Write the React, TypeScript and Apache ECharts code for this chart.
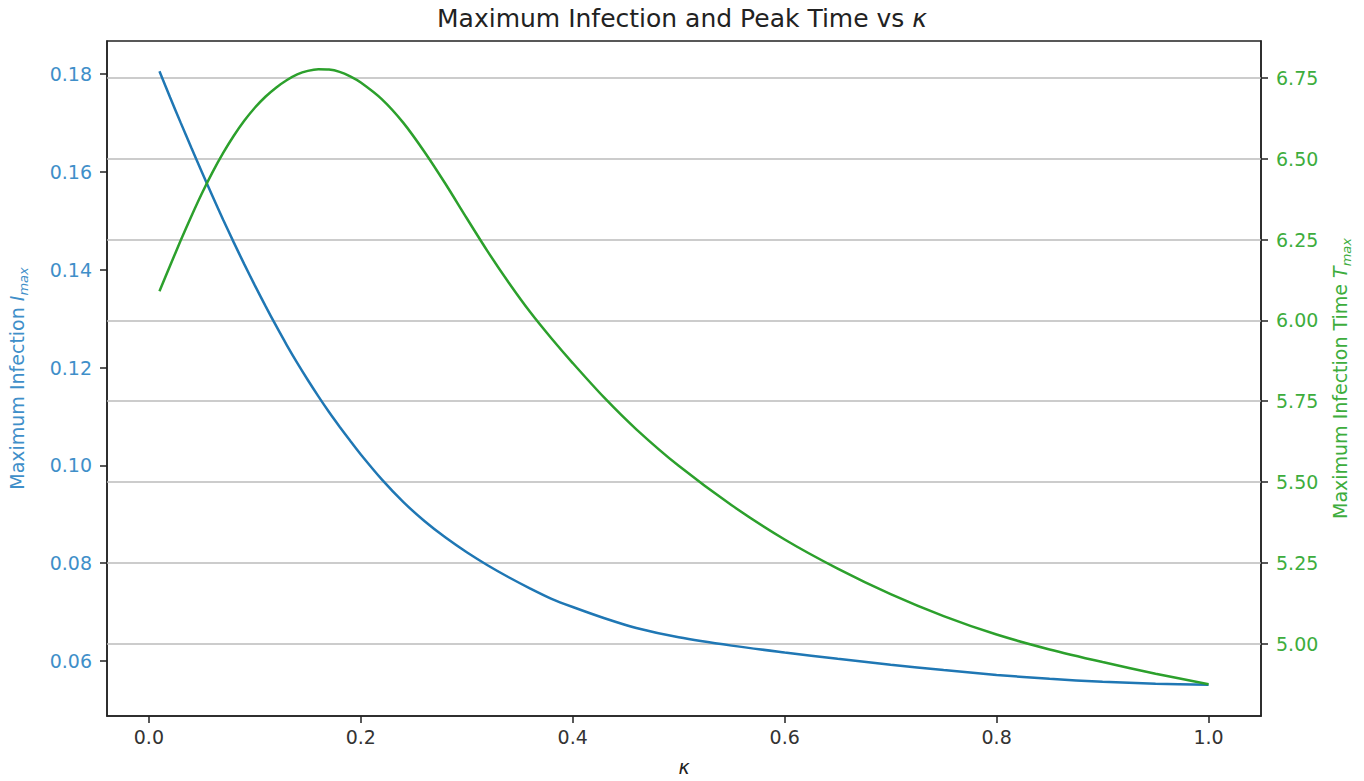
import React, { useEffect, useRef } from "react";
import * as echarts from "echarts";

const kappa = [
  0.01, 0.02, 0.03, 0.04, 0.05, 0.06, 0.07, 0.08, 0.09, 0.1, 0.11, 0.12, 0.13, 0.14, 0.15,
  0.16, 0.17, 0.18, 0.19, 0.2, 0.22, 0.24, 0.26, 0.28, 0.3, 0.32, 0.34, 0.36, 0.38, 0.4,
  0.43, 0.46, 0.5, 0.55, 0.6, 0.65, 0.7, 0.75, 0.8, 0.85, 0.9, 0.95, 1.0,
];

const iMax = [
  0.1806, 0.1753, 0.1701, 0.165, 0.16, 0.1551, 0.1503, 0.14565, 0.14115, 0.1368, 0.1326,
  0.12855, 0.12465, 0.12095, 0.11745, 0.1141, 0.1109, 0.1079, 0.105, 0.1022, 0.09705,
  0.0925, 0.0886, 0.0852, 0.0822, 0.0795, 0.07704, 0.07478, 0.07268, 0.071, 0.0687,
  0.0667, 0.0648, 0.0631, 0.0617, 0.0604, 0.0592, 0.0581, 0.0571, 0.0563, 0.0557, 0.0553,
  0.0551,
];

const tMax = [
  6.09, 6.169, 6.247, 6.3215, 6.3925, 6.458, 6.5175, 6.5705, 6.6175, 6.658, 6.692, 6.72,
  6.743, 6.761, 6.772, 6.777, 6.776, 6.769, 6.755, 6.736, 6.684, 6.612, 6.522, 6.422, 6.316,
  6.212, 6.115, 6.025, 5.944, 5.868, 5.76, 5.663, 5.55, 5.428, 5.322, 5.232, 5.153, 5.085,
  5.028, 4.982, 4.943, 4.907, 4.874,
];

const xTicks = [0, 0.2, 0.4, 0.6, 0.8, 1.0];
const leftTicks = [0.06, 0.08, 0.1, 0.12, 0.14, 0.16, 0.18];
const rightTicks = [5.0, 5.25, 5.5, 5.75, 6.0, 6.25, 6.5, 6.75];

const FONT = "DejaVu Sans";
const BLUE = "#1f77b4";
const GREEN = "#2ca02c";
const BLUE_TXT = "#3f8fc9";
const GREEN_TXT = "#3dad3d";
const DARK = "#222";

export default function App() {
  const ref = useRef<HTMLDivElement>(null);

  useEffect(() => {
    const chart = echarts.init(ref.current!, null, { renderer: "svg" });
    const tickStyle = { color: DARK, width: 1.5 };
    const nameRich = (c: string) => ({
      n: { fontFamily: FONT, fontSize: 19, color: c, lineHeight: 26 },
      i: { fontFamily: FONT, fontSize: 19, fontStyle: "italic", color: c, lineHeight: 26 },
      s: {
        fontFamily: FONT,
        fontSize: 13,
        fontStyle: "italic",
        color: c,
        lineHeight: 14,
        verticalAlign: "bottom",
      },
    });
    chart.setOption({
      animation: false,
      backgroundColor: "#fff",
      title: {
        text: "Maximum Infection and Peak Time vs {k|κ}",
        left: "center",
        top: 1,
        textStyle: {
          fontFamily: FONT,
          fontSize: 25,
          fontWeight: "normal",
          color: DARK,
          rich: { k: { fontFamily: FONT, fontSize: 25, fontStyle: "italic", color: DARK } },
        },
      },
      grid: {
        left: 107,
        right: 103,
        top: 41,
        bottom: 65,
        containLabel: false,
        outerBoundsMode: "none",
        show: true,
        borderColor: DARK,
        borderWidth: 1.5,
        backgroundColor: "transparent",
      },
      xAxis: {
        type: "value",
        min: -0.0395,
        max: 1.0495,
        axisLine: { show: true, onZero: false, lineStyle: tickStyle },
        axisTick: { show: true, customValues: xTicks, length: 7, lineStyle: tickStyle },
        axisLabel: {
          customValues: xTicks,
          formatter: (v: number) => v.toFixed(1),
          fontFamily: FONT,
          fontSize: 19,
          color: "#333",
          margin: 11,
        },
        splitLine: { show: false },
        name: "κ",
        nameLocation: "middle",
        nameGap: 41,
        nameTextStyle: { fontFamily: FONT, fontSize: 19, fontStyle: "italic", color: DARK },
      },
      yAxis: [
        {
          type: "value",
          position: "left",
          min: 0.0487,
          max: 0.1868,
          axisLine: { show: true, onZero: false, lineStyle: tickStyle },
          axisTick: { show: true, customValues: leftTicks, length: 7, lineStyle: tickStyle },
          axisLabel: {
            customValues: leftTicks,
            formatter: (v: number) => v.toFixed(2),
            fontFamily: FONT,
            fontSize: 19,
            color: BLUE_TXT,
            margin: 15,
          },
          splitLine: { show: false },
          name: "{n|Maximum Infection }{i|I}{s|max}",
          nameLocation: "middle",
          nameGap: 77,
          nameTextStyle: { fontFamily: FONT, fontSize: 19, color: BLUE_TXT, rich: nameRich(BLUE_TXT) },
        },
        {
          type: "value",
          position: "right",
          min: 4.776,
          max: 6.8645,
          axisLine: { show: true, onZero: false, lineStyle: tickStyle },
          axisTick: { show: true, customValues: rightTicks, length: 7, lineStyle: tickStyle },
          axisLabel: {
            customValues: rightTicks,
            formatter: (v: number) => v.toFixed(2),
            fontFamily: FONT,
            fontSize: 19,
            color: GREEN_TXT,
            margin: 15,
          },
          splitLine: { show: false },
          name: "{n|Maximum Infection Time }{i|T}{s|max}",
          nameLocation: "middle",
          nameGap: 66,
          nameTextStyle: { fontFamily: FONT, fontSize: 19, color: GREEN_TXT, rich: nameRich(GREEN_TXT) },
        },
      ],
      series: [
        {
          name: "I_max",
          type: "line",
          xAxisIndex: 0,
          yAxisIndex: 0,
          data: kappa.map((k, i) => [k, iMax[i]]),
          showSymbol: false,
          symbol: "none",
          smooth: 0.3,
          lineStyle: { color: BLUE, width: 2.5 },
          z: 2,
        },
        {
          name: "T_max",
          type: "line",
          xAxisIndex: 0,
          yAxisIndex: 1,
          data: kappa.map((k, i) => [k, tMax[i]]),
          showSymbol: false,
          symbol: "none",
          smooth: 0.3,
          lineStyle: { color: GREEN, width: 2.5 },
          z: 3,
          markLine: {
            silent: true,
            symbol: "none",
            label: { show: false },
            lineStyle: { color: "#bbbbbb", type: "solid", width: 1.5 },
            z: 1,
            data: rightTicks.map((v) => ({ yAxis: v })),
          },
        },
      ],
    });
    return () => chart.dispose();
  }, []);

  return (
    <div
      ref={ref}
      style={{ position: "fixed", left: 0, top: 0, width: 1364, height: 781, background: "#fff" }}
    />
  );
}
